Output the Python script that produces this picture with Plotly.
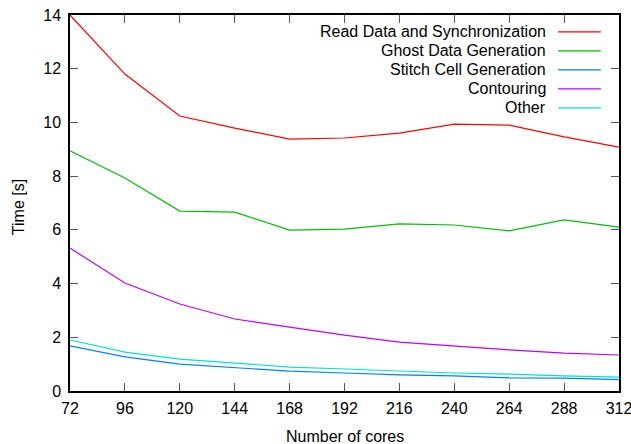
import plotly.graph_objects as go

cores = [72, 96, 120, 144, 168, 192, 216, 240, 264, 288, 312]
names = ["Read Data and Synchronization", "Ghost Data Generation",
         "Stitch Cell Generation", "Contouring", "Other"]
read_sync = [14.0, 11.8, 10.24, 9.79, 9.38, 9.42, 9.6, 9.94, 9.9, 9.46, 9.08]
ghost = [8.94, 7.93, 6.70, 6.66, 5.99, 6.03, 6.22, 6.18, 5.96, 6.37, 6.1]
stitch = [1.68, 1.27, 1.0, 0.86, 0.74, 0.67, 0.6, 0.56, 0.49, 0.48, 0.42]
contour = [5.32, 4.02, 3.24, 2.68, 2.38, 2.08, 1.82, 1.67, 1.53, 1.41, 1.34]
other = [1.9, 1.45, 1.19, 1.04, 0.89, 0.82, 0.74, 0.67, 0.63, 0.56, 0.52]
series = [read_sync, ghost, stitch, contour, other]
colors = ["#ff0000", "#00c000", "#0080ff", "#c000ff", "#00e0e0"]
x_ticks = cores
y_ticks = [0, 2, 4, 6, 8, 10, 12, 14]

font = "Liberation Sans, Arial, Helvetica, sans-serif"
FS = 16

fig = go.Figure()
for name, ys, c in zip(names, series, colors):
    fig.add_trace(go.Scatter(x=cores, y=ys, mode="lines", name=name,
                             line=dict(color=c, width=1.2), showlegend=False))

# gnuplot-style key: text right-aligned, sample line to the right
row0 = 0.955
step = 0.0505
for i, (name, c) in enumerate(zip(names, colors)):
    yy = row0 - i * step
    fig.add_annotation(x=0.871, y=yy, xref="paper", yref="paper", text=name,
                       showarrow=False, xanchor="right", yanchor="middle",
                       font=dict(family=font, size=FS, color="#000"))
    fig.add_shape(type="line", xref="paper", yref="paper",
                  x0=0.889, x1=0.967, y0=yy, y1=yy,
                  line=dict(color=c, width=1.2))

# axis titles
fig.add_annotation(x=0.5, y=-0.122, xref="paper", yref="paper",
                   text="Number of cores", showarrow=False,
                   xanchor="center", yanchor="middle",
                   font=dict(family=font, size=FS, color="#000"))
fig.add_annotation(x=-0.0947, y=0.489, xref="paper", yref="paper",
                   text="Time [s]", showarrow=False, textangle=-90,
                   xanchor="center", yanchor="middle",
                   font=dict(family=font, size=FS, color="#000"))

axis_common = dict(showline=True, linecolor="#000", linewidth=1.5, mirror="ticks",
                   ticks="inside", ticklen=8, tickcolor="#555", tickwidth=1.3,
                   showgrid=False, zeroline=False, automargin=False,
                   ticklabeloverflow="allow",
                   tickfont=dict(family=font, size=FS, color="#000"))

fig.update_layout(
    width=631, height=444,
    margin=dict(l=70, r=12, t=15, b=53, autoexpand=False),
    plot_bgcolor="white", paper_bgcolor="white",
    xaxis=dict(range=[72, 312], tickvals=x_ticks, ticklabelstandoff=2,
               **axis_common),
    yaxis=dict(range=[0, 14], tickvals=y_ticks, ticklabelstandoff=4,
               **axis_common),
)

# remove the page's default body margin so the figure fills the window
fig.write_html("out.html",
               config={"displayModeBar": False},
               post_script="document.body.style.margin='0';"
                           "document.body.style.overflow='hidden';")
